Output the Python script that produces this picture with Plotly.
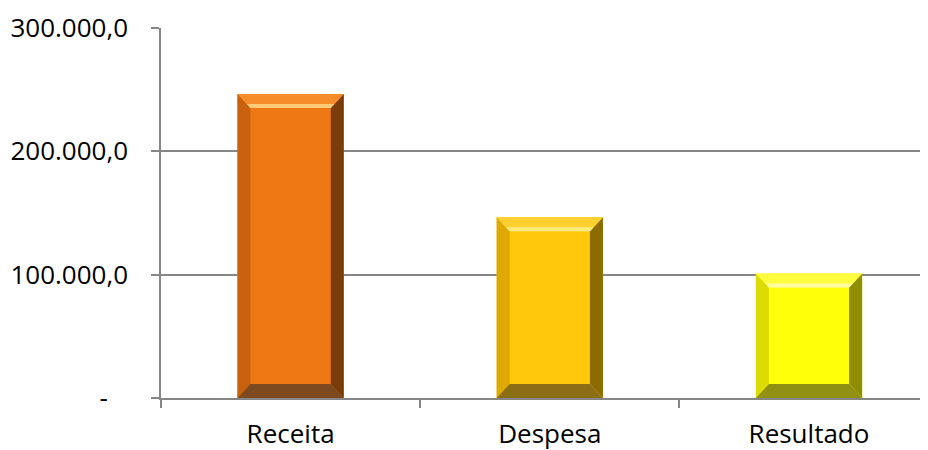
import plotly.graph_objects as go

categories = ["Receita", "Despesa", "Resultado"]
values = [246500, 146500, 101000]
face_colors = ["#F07814", "#FFC80A", "#FFFF0A"]
top_colors = ["#F68C2A", "#FFD030", "#FFFF40"]
highlight_colors = ["#FFCB78", "#FFEA80", "#FFFFA0"]
left_colors = ["#C8620E", "#DDA800", "#DCDC00"]
right_colors = ["#7A3C08", "#8C6C00", "#8E8E00"]
bottom_colors = ["#7C4A1E", "#8C6E14", "#909012"]

y_ticks = [0, 100000, 200000, 300000]
y_ticktext = ["-\u00a0\u00a0\u00a0", "100.000,0", "200.000,0", "300.000,0"]

W, H = 928, 450
margin = dict(l=153, r=0, t=20, b=60)
x_range = [-0.5, 2.49]
y_range = [0, 300000]
bar_frac = 0.41

fig = go.Figure()
fig.add_trace(go.Bar(
    x=categories, y=values,
    marker=dict(color=face_colors, line=dict(width=0)),
    width=bar_frac, hoverinfo="skip",
))

# bevel facets, derived from the data through the axis scales
px_per_x = (W - margin["l"] - margin["r"]) / (x_range[1] - x_range[0])
px_per_y = (H - margin["t"] - margin["b"]) / (y_range[1] - y_range[0])
bx = 13 / px_per_x
by = 14 / px_per_y
hl = 4 / px_per_y
shapes = []
for i, v in enumerate(values):
    x0, x1 = i - bar_frac / 2, i + bar_frac / 2
    polys = [
        (left_colors[i], [(x0, 0), (x0, v), (x0 + bx, v - by), (x0 + bx, by)]),
        (right_colors[i], [(x1, 0), (x1, v), (x1 - bx, v - by), (x1 - bx, by)]),
        (bottom_colors[i], [(x0, 0), (x1, 0), (x1 - bx, by), (x0 + bx, by)]),
        (top_colors[i], [(x0, v), (x1, v), (x1 - bx, v - by), (x0 + bx, v - by)]),
        (highlight_colors[i], [(x0 + bx * (1 - hl / by), v - by + hl), (x1 - bx * (1 - hl / by), v - by + hl),
                               (x1 - bx, v - by), (x0 + bx, v - by)]),
    ]
    for col, pts in polys:
        path = "M " + " L ".join(f"{px},{py}" for px, py in pts) + " Z"
        shapes.append(dict(type="path", path=path, xref="x", yref="y",
                           fillcolor=col, line=dict(width=0), layer="above"))

fig.update_layout(
    width=W, height=H,
    margin=margin,
    paper_bgcolor="white", plot_bgcolor="white",
    showlegend=False,
    bargap=0.59,
    shapes=shapes,
    font=dict(family="Open Sans", size=26, color="#000000"),
    xaxis=dict(
        type="category", range=x_range, automargin=False,
        showline=True, linecolor="#868686", linewidth=1.5,
        ticks="outside", tickson="boundaries", ticklen=8, tickcolor="#868686", tickwidth=1.5,
        showgrid=False, ticklabelstandoff=12,
        tickfont=dict(family="Open Sans", size=26, color="#000000"),
    ),
    yaxis=dict(
        range=y_range, tickvals=y_ticks, ticktext=y_ticktext, automargin=False,
        showline=True, linecolor="#868686", linewidth=1.5,
        ticks="outside", ticklen=8, tickcolor="#868686", tickwidth=1.5,
        showgrid=True, gridcolor="#868686", gridwidth=1.5,
        zeroline=False, ticklabelstandoff=18,
        tickfont=dict(family="Open Sans", size=26, color="#000000"),
    ),
)

fig.write_html("out.html", config={"displayModeBar": False})
